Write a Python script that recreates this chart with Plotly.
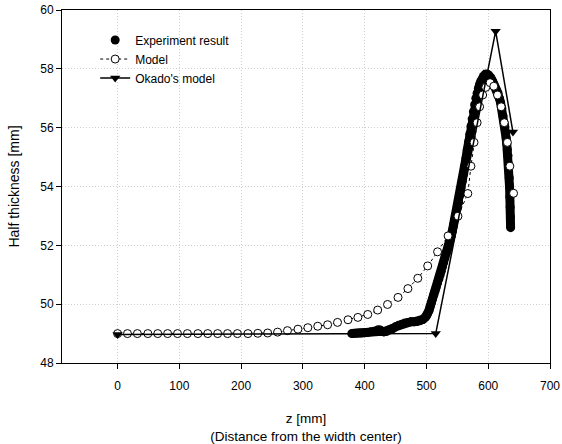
import plotly.graph_objects as go

exp_z = [379, 385, 390, 395, 400, 405, 410, 415, 419, 422, 425, 428, 431, 435, 440, 445,
         450, 455, 460, 465, 470, 475, 480, 485, 490, 494, 498,
         500, 502, 504, 506, 508, 510, 512, 514, 516, 518, 520, 522, 524, 526, 528, 530,
         532, 534, 536, 538, 540, 542, 544, 546, 548, 550, 552, 554, 556, 558, 560, 562,
         564, 566, 568, 570, 572, 574, 576, 578, 580, 582, 584, 586, 588, 590, 592, 594,
         596, 598, 600, 602, 604, 606, 608, 610, 612, 614, 616, 618, 620, 622, 624, 626,
         627, 628, 629, 630, 631, 632, 633, 634, 634.5, 635, 635.5, 636, 636.2]
exp_v = [49.00, 49.01, 49.02, 49.02, 49.03, 49.04, 49.06, 49.08, 49.10, 49.13, 49.12, 49.08,
         49.06, 49.07, 49.12, 49.17, 49.23, 49.28, 49.32, 49.36, 49.38, 49.40, 49.40, 49.41,
         49.44, 49.48, 49.55,
         49.60, 49.68, 49.78, 49.92, 50.05, 50.18, 50.32, 50.45, 50.58, 50.72, 50.85, 50.98,
         51.12, 51.27, 51.42, 51.57, 51.72, 51.87, 52.02, 52.17, 52.32, 52.50, 52.70, 52.88,
         53.05, 53.25, 53.45, 53.70, 53.95, 54.18, 54.42, 54.70, 54.96, 55.24, 55.50, 55.77,
         56.04, 56.30, 56.54, 56.78, 57.00, 57.17, 57.33, 57.46, 57.57, 57.66, 57.74, 57.79,
         57.82, 57.82, 57.80, 57.76, 57.70, 57.62, 57.54, 57.45, 57.36, 57.27, 57.17, 57.00,
         56.85, 56.65, 56.40, 56.15, 56.03, 55.85, 55.65, 55.45, 55.25, 55.05, 54.75, 54.30,
         54.00, 53.65, 53.30, 52.95, 52.60]

# Model
model_z = [0, 16, 32, 49, 65, 81, 97, 113, 130, 146, 162, 178, 194, 211, 227, 243, 259, 275,
           292, 308, 324, 340, 356, 373, 389, 405, 421, 437, 454, 470, 486, 502, 518, 535,
           551, 567, 572, 577, 582, 586, 591, 596, 603, 609, 615, 621, 626, 631, 635, 641]
model_v = [49.0, 49.0, 49.0, 49.0, 49.0, 49.0, 49.0, 49.0, 49.0, 49.0, 49.0, 49.0, 49.0,
           49.0, 49.01, 49.02, 49.05, 49.1, 49.15, 49.2, 49.25, 49.3, 49.38, 49.47, 49.55,
           49.65, 49.8, 49.99, 50.23, 50.53, 50.88, 51.3, 51.78, 52.32, 52.99, 53.76, 54.69,
           55.5, 56.17, 56.71, 57.11, 57.37, 57.53, 57.41, 57.11, 56.71, 56.17, 55.5, 54.69,
           53.77]

# Okado's model
okado_z = [0, 515, 612, 640]
okado_v = [48.97, 49.0, 59.28, 55.85]

x_ticks = [0, 100, 200, 300, 400, 500, 600, 700]
y_ticks = [48, 50, 52, 54, 56, 58, 60]

FONT = "Liberation Sans, Arial, sans-serif"

fig = go.Figure()
# thick band joining the dense measured points (same data, no legend entry)
fig.add_trace(go.Scatter(
    x=exp_z, y=exp_v, mode="lines", showlegend=False, hoverinfo="skip",
    line=dict(color="black", width=9),
))
fig.add_trace(go.Scatter(
    x=exp_z, y=exp_v, mode="markers", name="Experiment result",
    marker=dict(color="black", size=9, symbol="circle", line=dict(width=0)),
))
fig.add_trace(go.Scatter(
    x=model_z, y=model_v, mode="lines+markers", name="Model",
    line=dict(color="black", width=1, dash="dot"),
    marker=dict(color="white", size=8, symbol="circle", line=dict(color="black", width=1)),
))
fig.add_trace(go.Scatter(
    x=okado_z, y=okado_v, mode="lines+markers", name="Okado's model",
    line=dict(color="black", width=1.5),
    marker=dict(color="black", size=9, symbol="triangle-down"),
))

fig.update_layout(
    width=562, height=444,
    margin=dict(l=62, r=12, t=10, b=81),
    paper_bgcolor="white", plot_bgcolor="white",
    font=dict(family=FONT, size=12, color="black"),
    showlegend=True,
    legend=dict(x=0.068, y=0.956, xanchor="left", yanchor="top",
                bgcolor="rgba(0,0,0,0)", font=dict(family=FONT, size=12),
                tracegroupgap=0, itemsizing="trace"),
)
fig.update_xaxes(
    range=[-90, 700], tickvals=x_ticks, ticks="outside", ticklen=5, tickwidth=1,
    tickcolor="black", showline=True, linecolor="black", linewidth=1, mirror=True,
    showgrid=True, gridcolor="#cfcfcf", griddash="1px,2px", gridwidth=1, zeroline=False,
    ticklabelstandoff=7, automargin=False,
    title=dict(text="z [mm]<br>(Distance from the width center)", font=dict(size=13.5), standoff=21),
)
fig.update_yaxes(
    range=[48, 60], tickvals=y_ticks, ticks="outside", ticklen=5, tickwidth=1,
    tickcolor="black", showline=True, linecolor="black", linewidth=1, mirror=True,
    showgrid=True, gridcolor="#cfcfcf", griddash="1px,2px", gridwidth=1, zeroline=False,
    automargin=False,
    title=dict(text="Half thickness [mm]", font=dict(size=14), standoff=17),
)

fig.write_html("out.html", config={"displayModeBar": False},
               post_script="document.body.style.margin='0';")
